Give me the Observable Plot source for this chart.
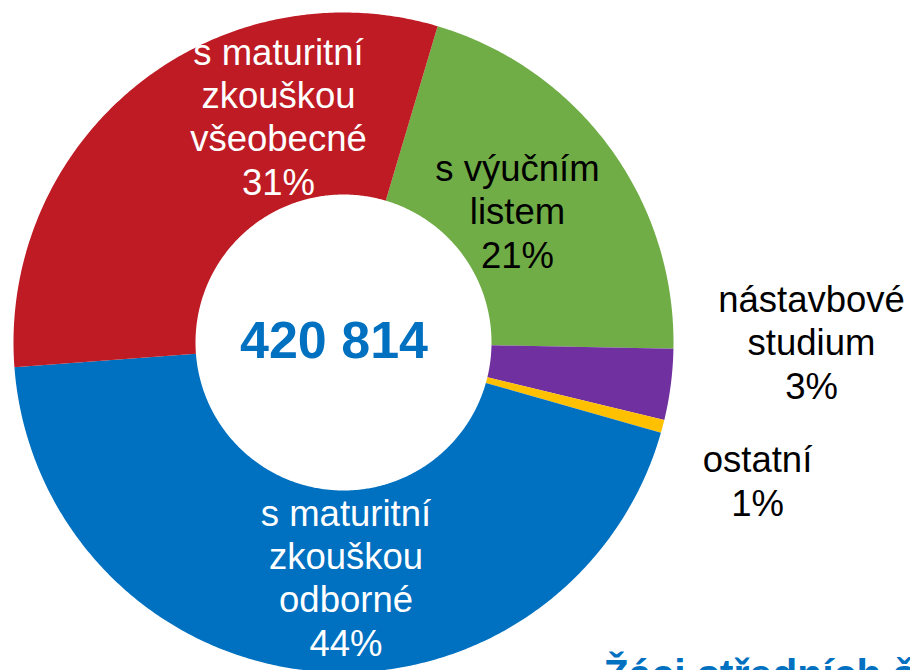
<!DOCTYPE html>
<html><head><meta charset="utf-8">
<script src="https://cdn.jsdelivr.net/npm/d3@7"></script>
<script src="https://cdn.jsdelivr.net/npm/@observablehq/plot@0.6"></script>
<style>html,body{margin:0;padding:0;background:#fff;overflow:hidden}</style>
</head><body><div id="chart"></div>
<script>
// ---- data ----
const categories = ["s výučním listem", "nástavbové studium", "ostatní", "s maturitní zkouškou odborné", "s maturitní zkouškou všeobecné"];
const values = [87100, 14600, 2700, 186800, 129614];
const colors = ["#70AD47", "#7030A0", "#FFC000", "#0070C0", "#BE1B24"];
const labelLines = ["s výučním\nlistem", "nástavbové\nstudium", "ostatní", "s maturitní\nzkouškou\nodborné", "s maturitní\nzkouškou\nvšeobecné"];
const labelColors = ["black", "black", "black", "white", "white"];
const totalStudents = 420814;
const title = "Žáci středních škol";

// ---- layout ----
const W = 910, H = 670;
const cx = 343, cy = 342, R = 330, R0 = 148;
const startDeg = 16.57;
const labelAnchors = [[517, 267], [811, 398], [757, 515], [345.5, 655], [278, 194]]; // last-line baseline
const font = "Liberation Sans, Arial, Helvetica, sans-serif";

const total = d3.sum(values);
const pie = d3.pie().sort(null).value(d => d)
  .startAngle(startDeg * Math.PI / 180)
  .endAngle(startDeg * Math.PI / 180 + 2 * Math.PI)(values);

const pts = [];
pie.forEach((s, i) => {
  const n = Math.max(4, Math.ceil((s.endAngle - s.startAngle) * 180 / Math.PI * 2));
  for (let k = 0; k <= n; k++) {
    const a = s.startAngle + (s.endAngle - s.startAngle) * k / n;
    pts.push({cat: categories[i], x: cx + R * Math.sin(a), y: cy - R * Math.cos(a)});
  }
  for (let k = n; k >= 0; k--) {
    const a = s.startAngle + (s.endAngle - s.startAngle) * k / n;
    pts.push({cat: categories[i], x: cx + R0 * Math.sin(a), y: cy - R0 * Math.cos(a)});
  }
});

const labels = categories.map((c, i) => ({
  cat: c,
  text: labelLines[i] + "\n" + Math.round(values[i] / total * 100) + "%",
  x: labelAnchors[i][0], y: labelAnchors[i][1], color: labelColors[i]
}));

const totalText = d3.format(",")(totalStudents).replace(/,/g, " ");

const plot = Plot.plot({
  width: W, height: H,
  margin: 0,
  x: {domain: [0, W], range: [0, W], axis: null},
  y: {domain: [0, H], range: [0, H], axis: null},
  color: {domain: categories, range: colors},
  style: {fontFamily: font, background: "white", overflow: "hidden"},
  marks: [
    Plot.line(pts, {x: "x", y: "y", z: "cat", fill: "cat", stroke: "none", curve: "linear"}),
    Plot.text(labels, {x: "x", y: "y", text: "text", fill: "color", fontSize: 36.5, lineHeight: 1.18, lineAnchor: "bottom", textAnchor: "middle"}),
    Plot.text([totalText], {x: [333.5], y: [357], text: d => d, fill: "#0070C0", fontSize: 52, fontWeight: "bold", lineAnchor: "bottom", textAnchor: "middle"}),
    Plot.text([title], {x: [603], y: [687], text: d => d, fill: "#0070C0", fontSize: 41, fontWeight: "bold", lineAnchor: "bottom", textAnchor: "start"})
  ]
});
document.getElementById("chart").appendChild(plot);
</script>
</body></html>
